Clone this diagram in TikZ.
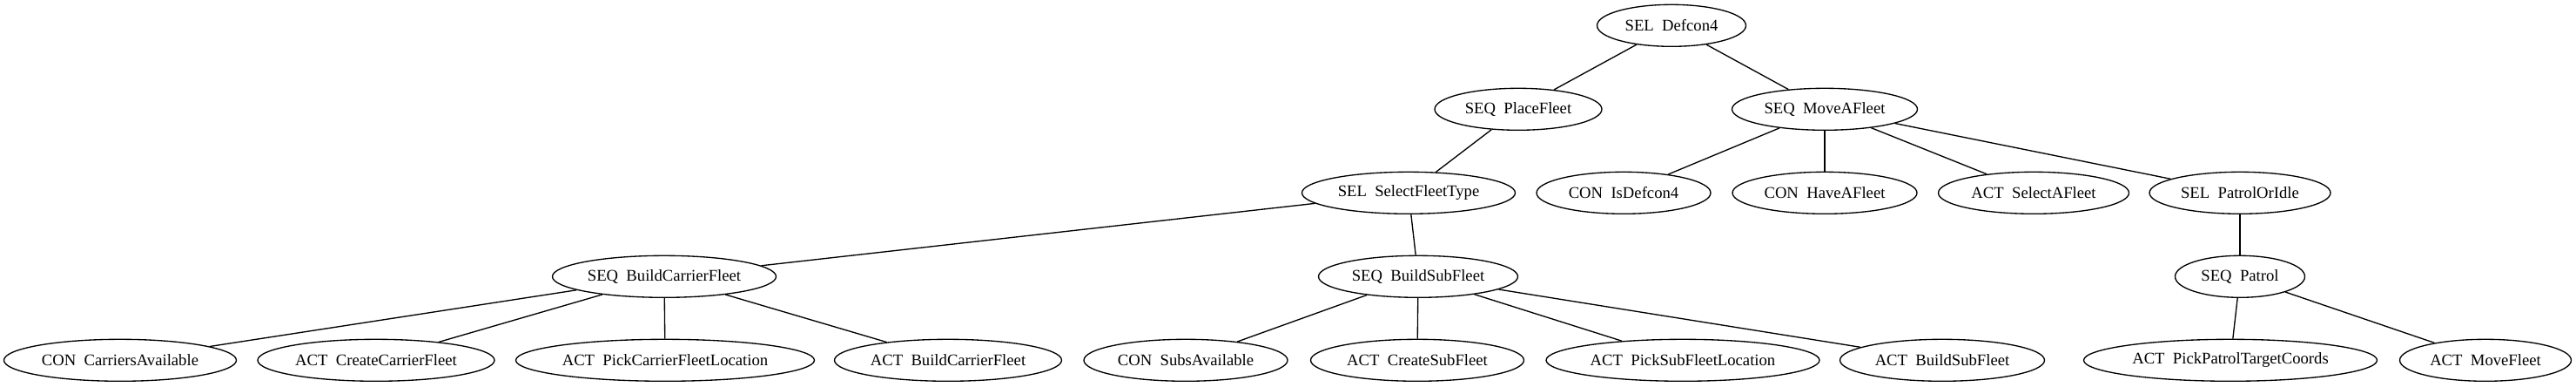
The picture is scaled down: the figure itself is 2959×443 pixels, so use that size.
\documentclass[tikz,border=0pt]{standalone}
\usepackage{fontspec}
\setmainfont{Liberation Serif}
\usetikzlibrary{shapes.geometric}
\newdimen\pxu \pxu=0.75pt
\begin{document}
\begin{tikzpicture}[x=0.75pt,y=-0.75pt,
  bt/.style={ellipse,draw,line width=1pt,inner sep=0pt,minimum height=48\pxu,
    font=\fontsize{14pt}{16pt}\selectfont},
  edge/.style={line width=1pt}]
\useasboundingbox (0,0) rectangle (2959,443);
% rank 0
\node[bt,minimum width=171\pxu] (root) at (1920,29.3) {SEL~~Defcon4};
% rank 1
\node[bt,minimum width=192\pxu] (place) at (1744,125.3) {SEQ~~PlaceFleet};
\node[bt,minimum width=213\pxu] (move) at (2096,125.3) {SEQ~~MoveAFleet};
% rank 2
\node[bt,minimum width=245\pxu] (seltype) at (1618,221.3) {SEL~~SelectFleetType};
\node[bt,minimum width=200\pxu] (isdef) at (1865,221.3) {CON~~IsDefcon4};
\node[bt,minimum width=212\pxu] (have) at (2096,221.3) {CON~~HaveAFleet};
\node[bt,minimum width=219\pxu] (selafleet) at (2336,221.3) {ACT~~SelectAFleet};
\node[bt,minimum width=208\pxu] (patidle) at (2573,221.3) {SEL~~PatrolOrIdle};
% rank 3
\node[bt,minimum width=257\pxu] (bcf) at (763,317.3) {SEQ~~BuildCarrierFleet};
\node[bt,minimum width=229\pxu] (bsf) at (1629,317.3) {SEQ~~BuildSubFleet};
\node[bt,minimum width=149\pxu] (patrol) at (2573,317.3) {SEQ~~Patrol};
% rank 4
\node[bt,minimum width=267\pxu] (cavail) at (138,413.3) {CON~~CarriersAvailable};
\node[bt,minimum width=272\pxu] (ccf) at (432,413.3) {ACT~~CreateCarrierFleet};
\node[bt,minimum width=343\pxu] (pcfl) at (764,413.3) {ACT~~PickCarrierFleetLocation};
\node[bt,minimum width=261\pxu] (abcf) at (1089,413.3) {ACT~~BuildCarrierFleet};
\node[bt,minimum width=234\pxu] (savail) at (1362,413.3) {CON~~SubsAvailable};
\node[bt,minimum width=245\pxu] (csf) at (1628,413.3) {ACT~~CreateSubFleet};
\node[bt,minimum width=314\pxu] (psfl) at (1933,413.3) {ACT~~PickSubFleetLocation};
\node[bt,minimum width=235\pxu] (absf) at (2231,413.3) {ACT~~BuildSubFleet};
\node[bt,minimum width=337\pxu] (pptc) at (2562,413.3) {ACT~~PickPatrolTargetCoords};
\node[bt,minimum width=197\pxu] (mf) at (2855,413.3) {ACT~~MoveFleet};
% edges
\draw[edge] (root) -- (place);
\draw[edge] (root) -- (move);
\draw[edge] (place) -- (seltype);
\draw[edge] (move) -- (isdef);
\draw[edge] (move) -- (have);
\draw[edge] (move) -- (selafleet);
\draw[edge] (move) -- (patidle);
\draw[edge] (seltype) -- (bcf);
\draw[edge] (seltype) -- (bsf);
\draw[edge] (patidle) -- (patrol);
\draw[edge] (bcf) -- (cavail);
\draw[edge] (bcf) -- (ccf);
\draw[edge] (bcf) -- (pcfl);
\draw[edge] (bcf) -- (abcf);
\draw[edge] (bsf) -- (savail);
\draw[edge] (bsf) -- (csf);
\draw[edge] (bsf) -- (psfl);
\draw[edge] (bsf) -- (absf);
\draw[edge] (patrol) -- (pptc);
\draw[edge] (patrol) -- (mf);
\end{tikzpicture}
\end{document}
